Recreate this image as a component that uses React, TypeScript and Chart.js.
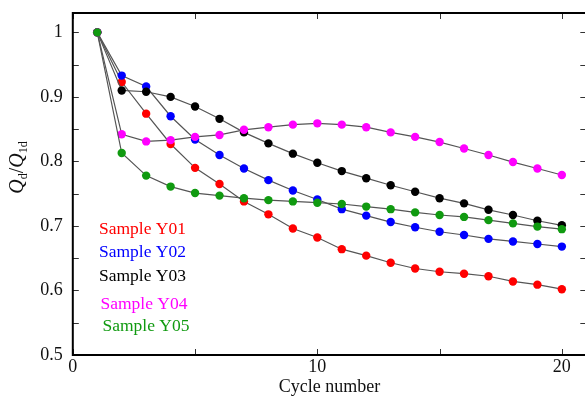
import React, { useEffect, useRef } from "react";
import { Chart, registerables } from "chart.js";

Chart.register(...registerables);

const cycles = [1, 2, 3, 4, 5, 6, 7, 8, 9, 10, 11, 12, 13, 14, 15, 16, 17, 18, 19, 20];
const y01 = [1, 0.923, 0.874, 0.827, 0.79, 0.765, 0.738, 0.718, 0.696, 0.682, 0.664, 0.654, 0.643, 0.634, 0.629, 0.626, 0.622, 0.614, 0.609, 0.602];
const y02 = [1, 0.933, 0.916, 0.87, 0.834, 0.81, 0.789, 0.771, 0.755, 0.741, 0.726, 0.716, 0.706, 0.698, 0.691, 0.686, 0.68, 0.676, 0.672, 0.668];
const y03 = [1, 0.91, 0.908, 0.9, 0.885, 0.866, 0.845, 0.828, 0.812, 0.798, 0.785, 0.774, 0.763, 0.753, 0.743, 0.735, 0.725, 0.717, 0.708, 0.701];
const y04 = [1, 0.842, 0.831, 0.833, 0.838, 0.841, 0.849, 0.853, 0.857, 0.859, 0.857, 0.853, 0.845, 0.838, 0.83, 0.82, 0.81, 0.799, 0.789, 0.779];
const y05 = [1, 0.813, 0.778, 0.761, 0.751, 0.747, 0.743, 0.74, 0.738, 0.736, 0.734, 0.73, 0.726, 0.721, 0.717, 0.714, 0.709, 0.704, 0.699, 0.695];

const seriesLabels = ["Sample Y01", "Sample Y02", "Sample Y03", "Sample Y04", "Sample Y05"];
const seriesColors = ["#ff0000", "#0000ff", "#000000", "#ff00ff", "#109a10"];
const seriesValues = [y01, y02, y03, y04, y05];

const xTickValues = [0, 5, 10, 15, 20];
const xTickLabels = ["0", "", "10", "", "20"];
const yTickValues = [0.5, 0.55, 0.6, 0.65, 0.7, 0.75, 0.8, 0.85, 0.9, 0.95, 1];
const yTickLabels = ["0.5", "", "0.6", "", "0.7", "", "0.8", "", "0.9", "", "1"];

const SERIF = "'Liberation Serif', 'DejaVu Serif', serif";

const framePlugin = {
  id: "frame",
  afterDraw(chart: any) {
    const { ctx, chartArea } = chart;
    const { left, right, top, bottom } = chartArea;
    const xs = chart.scales.x;
    const ys = chart.scales.y;
    ctx.save();
    // inward ticks
    ctx.strokeStyle = "#333";
    ctx.lineWidth = 1;
    const tl = 6;
    ctx.beginPath();
    xTickValues.forEach((v) => {
      const px = Math.round(xs.getPixelForValue(v)) + 0.5;
      ctx.moveTo(px, bottom);
      ctx.lineTo(px, bottom - tl);
      ctx.moveTo(px, top);
      ctx.lineTo(px, top + tl);
    });
    yTickValues.forEach((v) => {
      const py = Math.round(ys.getPixelForValue(v)) + 0.5;
      ctx.moveTo(left, py);
      ctx.lineTo(left + tl, py);
      ctx.moveTo(right, py);
      ctx.lineTo(right - tl, py);
    });
    ctx.stroke();
    // frame
    ctx.strokeStyle = "#000";
    ctx.lineWidth = 2;
    ctx.strokeRect(left, top, right - left, bottom - top);

    // legend (text only)
    const legendX = [99, 99, 99, 100.5, 102.5];
    const legendY = [229, 252.5, 276.5, 304, 326];
    ctx.font = `17.5px ${SERIF}`;
    ctx.textBaseline = "middle";
    ctx.textAlign = "left";
    chart.data.datasets.forEach((ds: any, i: number) => {
      ctx.fillStyle = ds.pointBackgroundColor;
      ctx.fillText(ds.label, legendX[i], legendY[i]);
    });

    // x title
    ctx.fillStyle = "#111";
    ctx.textAlign = "center";
    ctx.textBaseline = "alphabetic";
    ctx.font = `18px ${SERIF}`;
    ctx.fillText("Cycle number", (left + right) / 2, 392);

    // y title: Q_d / Q_1d rotated
    ctx.translate(23, 167.5);
    ctx.rotate(-Math.PI / 2);
    const big = `italic 20px ${SERIF}`;
    const bigR = `20px ${SERIF}`;
    const sub = `12px ${SERIF}`;
    const parts = [
      { t: "Q", f: big, dy: 0 },
      { t: "d", f: sub, dy: 4 },
      { t: "/", f: bigR, dy: 0 },
      { t: "Q", f: big, dy: 0 },
      { t: "1d", f: sub, dy: 4 },
    ];
    let total = 0;
    parts.forEach((p) => {
      ctx.font = p.f;
      total += ctx.measureText(p.t).width;
    });
    let cx = -total / 2;
    ctx.textAlign = "left";
    parts.forEach((p) => {
      ctx.font = p.f;
      ctx.fillText(p.t, cx, p.dy);
      cx += ctx.measureText(p.t).width;
    });
    ctx.restore();
  },
};

export default function App() {
  const ref = useRef<HTMLCanvasElement | null>(null);
  useEffect(() => {
    if (!ref.current) return;
    const datasets = seriesValues.map((vals, i) => ({
      label: seriesLabels[i],
      data: cycles.map((c, j) => ({ x: c, y: vals[j] })),
      borderColor: "#555",
      borderWidth: 1.2,
      pointBackgroundColor: seriesColors[i],
      pointBorderColor: seriesColors[i],
      pointBorderWidth: 0,
      pointRadius: 4.2,
      tension: 0,
      fill: false,
      order: 5 - i,
    }));
    const chart = new Chart(ref.current, {
      type: "line",
      data: { datasets },
      options: {
        responsive: false,
        animation: false,
        layout: { padding: { left: 0, top: 13, right: 600 - 586.3, bottom: 0 } },
        plugins: { legend: { display: false }, tooltip: { enabled: false } },
        scales: {
          x: {
            type: "linear",
            min: 0,
            max: 21,
            grid: { display: false },
            border: { display: false },
            afterBuildTicks: (s: any) => {
              s.ticks = xTickValues.map((v) => ({ value: v }));
            },
            afterFit: (s: any) => {
              s.height = 42;
            },
            ticks: {
              autoSkip: false,
              maxRotation: 0,
              padding: -7,
              color: "#111",
              font: { family: SERIF, size: 18 },
              callback: (_v: any, i: number) => xTickLabels[i],
            },
          },
          y: {
            type: "linear",
            min: 0.5,
            max: 1.03,
            grid: { display: false },
            border: { display: false },
            afterBuildTicks: (s: any) => {
              s.ticks = yTickValues.map((v) => ({ value: v }));
            },
            afterFit: (s: any) => {
              s.width = 72.8;
            },
            ticks: {
              autoSkip: false,
              padding: 2,
              color: "#111",
              font: { family: SERIF, size: 18 },
              callback: (_v: any, i: number) => yTickLabels[i],
            },
          },
        },
      },
      plugins: [framePlugin],
    });
    return () => chart.destroy();
  }, []);
  return (
    <div style={{ position: "fixed", left: 0, top: 0, width: 585, height: 397, overflow: "hidden", background: "#fff" }}>
      <canvas ref={ref} width={600} height={397} style={{ width: 600, height: 397, display: "block" }} />
    </div>
  );
}
